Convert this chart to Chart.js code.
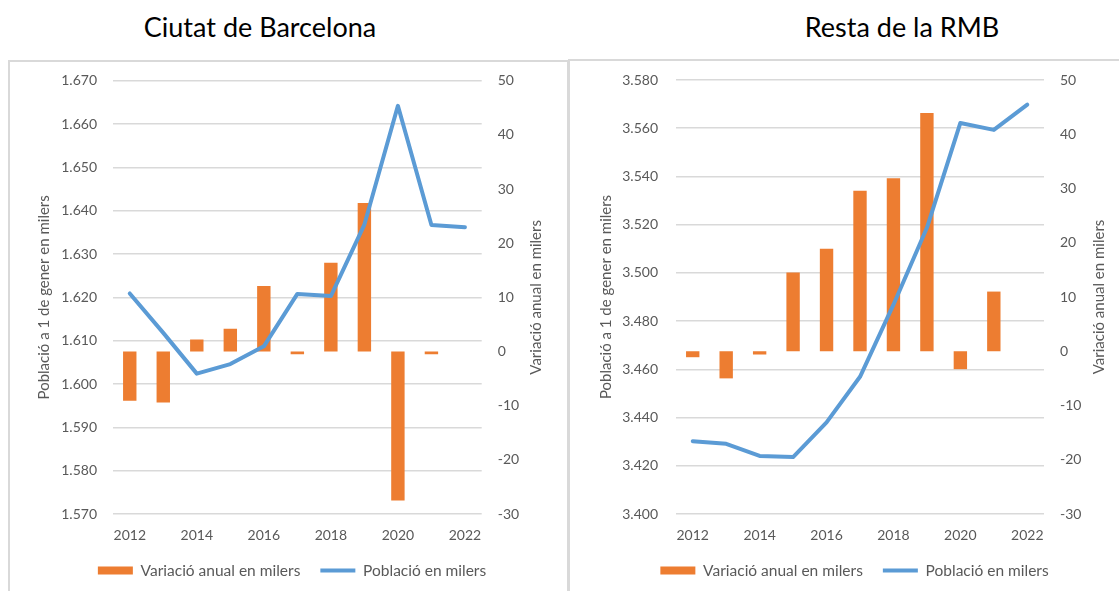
<!DOCTYPE html>
<html>
<head>
<meta charset="utf-8">
<script src="https://cdn.jsdelivr.net/npm/chart.js@4.4.1/dist/chart.umd.min.js"></script>
<style>
    body { margin: 0; background: #fff; width: 1119px; height: 591px; overflow: hidden; position: relative; font-family: Lato, sans-serif; }
    .titol { position: absolute; top: 10px; font-size: 27px; line-height: 34px; color: #000; transform: translateX(-50%); white-space: nowrap; }
    .caixa { position: absolute; border: 2px solid #d9d9d9; box-sizing: border-box; }
    canvas { position: absolute; }
</style>
</head>
<body>
<div class="titol" style="left:260px">Ciutat de Barcelona</div>
<div class="titol" style="left:902px">Resta de la RMB</div>
<div class="caixa" style="left:8px; top:60px; width:561px; height:560px"></div>
<div class="caixa" style="left:568px; top:59px; width:600px; height:560px"></div>
<canvas id="grafic-bcn" width="560" height="531" style="left:0px; top:60px"></canvas>
<canvas id="grafic-rmb" width="559" height="531" style="left:560px; top:60px"></canvas>
<script>
// dades llegides del gràfic (milers)
const anys = ['2012', '2013', '2014', '2015', '2016', '2017', '2018', '2019', '2020', '2021', '2022'];

const bcnPoblacio = [1620.9, 1611.8, 1602.4, 1604.6, 1608.7, 1620.8, 1620.3, 1636.8, 1664.2, 1636.7, 1636.2];
const bcnVariacio = [-9.1, -9.4, 2.2, 4.2, 12.1, -0.5, 16.4, 27.4, -27.5, -0.5, null];

const rmbPoblacio = [3430.2, 3429.1, 3424.1, 3423.6, 3438.0, 3456.9, 3486.8, 3518.7, 3562.2, 3559.3, 3569.8];
const rmbVariacio = [-1.1, -5.0, -0.6, 14.5, 18.9, 29.6, 31.9, 43.9, -3.3, 11.0, null];

// eixos: [min, max, pas]
const bcnEixPoblacio = [1570, 1670, 10];
const rmbEixPoblacio = [3400, 3580, 20];
const eixVariacio = [-30, 50, 10];

const titolEsquerra = 'Població a 1 de gener en milers';
const titolDreta = 'Variació anual en milers';
const nomBarres = 'Variació anual en milers';
const nomLinia = 'Població en milers';

const GRIS = '#595959';
const TARONJA = '#ED7D31';
const BLAU = '#5B9BD5';

Chart.defaults.font.family = 'Lato, sans-serif';
Chart.defaults.font.size = 14;
Chart.defaults.color = GRIS;

const milers = (v) => {
    const s = String(Math.round(v));
    return s.length > 3 ? s.slice(0, -3) + '.' + s.slice(-3) : s;
};

// Chart.js gira el títol de l'eix dret a l'inrevés, el dibuixem a mà
const titolEixDreta = {
    id: 'titolEixDreta',
    afterDraw(chart, args, opts) {
        const s = chart.scales.y1;
        const ctx = chart.ctx;
        ctx.save();
        ctx.translate(opts.x, (s.top + s.bottom) / 2);
        ctx.rotate(-Math.PI / 2);
        ctx.font = '15px Lato, sans-serif';
        ctx.fillStyle = GRIS;
        ctx.textAlign = 'center';
        ctx.textBaseline = 'middle';
        ctx.fillText(opts.text, 0, 0);
        ctx.restore();
    }
};

// amplada fixa de l'eix i sense el marge que afegeix Chart.js a dalt/baix
const fixarEix = (ample) => (s) => {
    s.width = ample;
    s.paddingTop = 0;
    s.paddingBottom = 0;
};

function crearGrafic(id, poblacio, variacio, eix, lay) {
    const ctx = document.getElementById(id).getContext('2d');
    return new Chart(ctx, {
        type: 'bar',
        data: {
            labels: anys,
            datasets: [
                {
                    label: nomBarres,
                    data: variacio,
                    backgroundColor: TARONJA,
                    borderWidth: 0,
                    yAxisID: 'y1',
                    barPercentage: 0.4,
                    categoryPercentage: 1,
                    order: 2,
                },
                {
                    type: 'line',
                    label: nomLinia,
                    data: poblacio,
                    borderColor: BLAU,
                    backgroundColor: BLAU,
                    borderWidth: 4,
                    borderCapStyle: 'round',
                    borderJoinStyle: 'round',
                    pointRadius: 0,
                    tension: 0,
                    yAxisID: 'y',
                    order: 1,
                },
            ],
        },
        options: {
            responsive: false,
            animation: false,
            layout: { padding: { left: lay.padLeft, right: 0, top: lay.padTop, bottom: 2.75 } },
            scales: {
                x: {
                    offset: true,
                    grid: { display: false, drawTicks: false },
                    border: { display: false },
                    ticks: {
                        autoSkip: false,
                        maxRotation: 0,
                        padding: 14.5,
                        color: GRIS,
                        font: { size: 14, lineHeight: 1 },
                        callback: (v, i) => (i % 2 === 0 ? anys[i] : ''),
                    },
                    afterFit: (s) => { s.height = 28.75; },
                },
                y: {
                    position: 'left',
                    min: eix[0],
                    max: eix[1],
                    border: { display: false },
                    grid: { color: '#d9d9d9', lineWidth: 1.5, drawTicks: false },
                    ticks: { stepSize: eix[2], padding: lay.padTickL, color: GRIS, callback: (v) => milers(v) },
                    title: {
                        display: true,
                        text: titolEsquerra,
                        color: GRIS,
                        font: { size: 15 },
                        padding: { top: lay.padTitolL, bottom: 0 },
                    },
                    afterFit: fixarEix(lay.ampleL),
                },
                y1: {
                    position: 'right',
                    min: eixVariacio[0],
                    max: eixVariacio[1],
                    border: { display: false },
                    grid: { display: false, drawTicks: false },
                    ticks: { stepSize: eixVariacio[2], padding: 16, color: GRIS },
                    afterFit: fixarEix(lay.ampleR),
                },
            },
            plugins: {
                tooltip: { enabled: false },
                legend: {
                    position: 'bottom',
                    labels: {
                        usePointStyle: true,
                        pointStyleWidth: 35,
                        boxHeight: 8,
                        padding: 20,
                        color: GRIS,
                        font: { size: 15.5 },
                        sort: (a, b) => a.datasetIndex - b.datasetIndex,
                        generateLabels(chart) {
                            const items = Chart.defaults.plugins.legend.labels.generateLabels(chart);
                            items.forEach((it) => {
                                const ds = chart.data.datasets[it.datasetIndex];
                                if (ds.type === 'line') {
                                    it.pointStyle = 'line';
                                    it.lineWidth = 4;
                                    it.strokeStyle = BLAU;
                                } else {
                                    it.pointStyle = 'rect';
                                    it.lineWidth = 0;
                                }
                            });
                            return items;
                        },
                    },
                },
                titolEixDreta: { text: titolDreta, x: lay.titolRX },
            },
        },
        plugins: [titolEixDreta],
    });
}

crearGrafic('grafic-bcn', bcnPoblacio, bcnVariacio, bcnEixPoblacio, {
    padLeft: 24, padTop: 20.7, ampleL: 89, ampleR: 78.3, padTickL: 16, padTitolL: 11.6, titolRX: 535.7,
});

crearGrafic('grafic-rmb', rmbPoblacio, rmbVariacio, rmbEixPoblacio, {
    padLeft: 30, padTop: 20, ampleL: 86, ampleR: 75, padTickL: 18, padTitolL: 7, titolRX: 539,
});
</script>
</body>
</html>
